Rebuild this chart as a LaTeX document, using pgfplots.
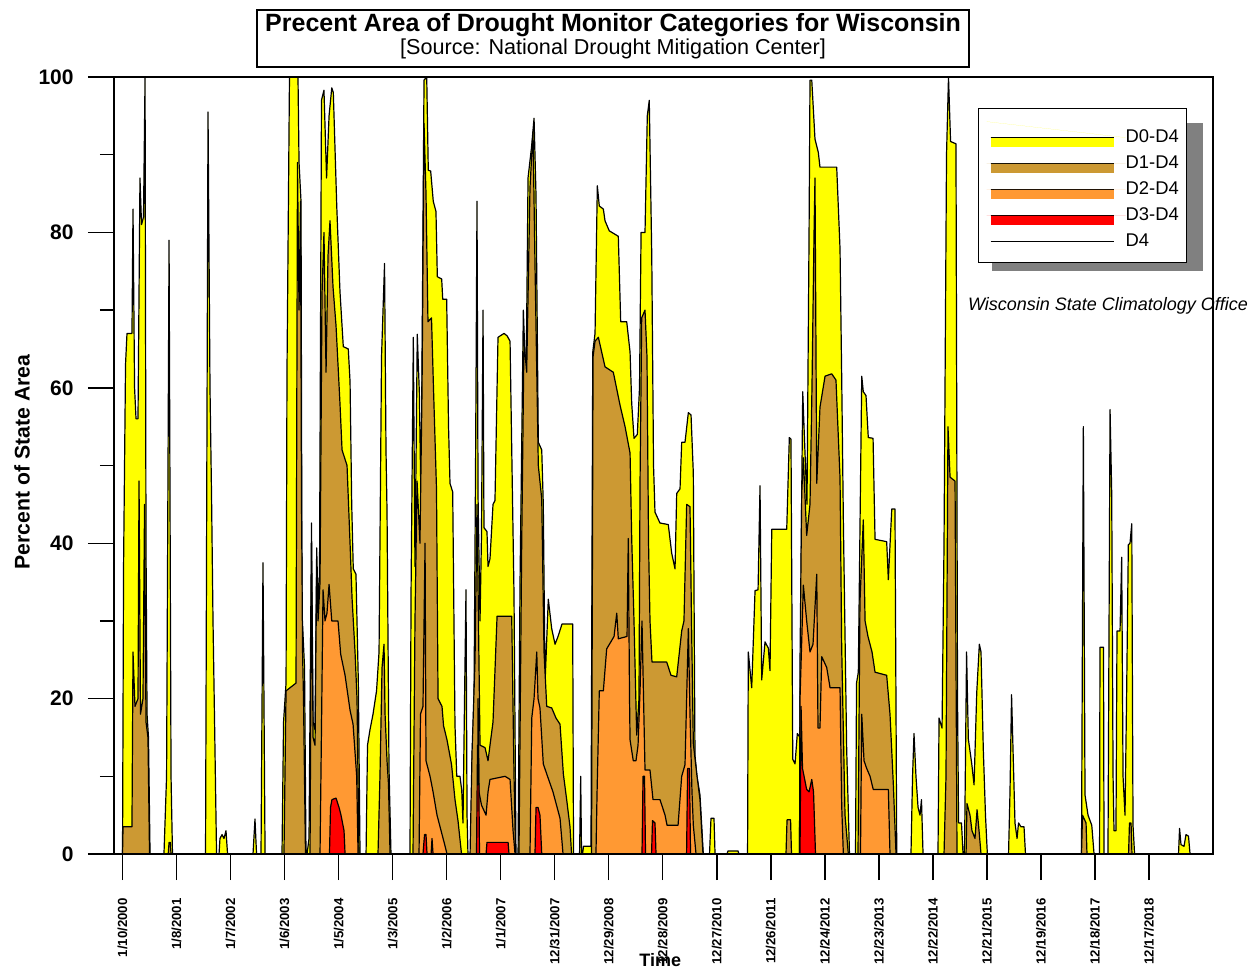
\documentclass[border=0pt]{standalone}
\usepackage{fontspec}
\setmainfont{Liberation Sans}
\usepackage{pgfplots}
\pgfplotsset{compat=1.18}
\definecolor{dzero}{RGB}{255,255,0}
\definecolor{done}{RGB}{204,153,51}
\definecolor{dtwo}{RGB}{255,153,51}
\definecolor{dthree}{RGB}{255,0,0}
\definecolor{shadowgray}{RGB}{128,128,128}
\begin{document}
\begin{tikzpicture}
\begin{axis}[
  width=549.5pt, height=388.5pt, scale only axis,
  xmin=-8.2, xmax=1049.6, ymin=0, ymax=100,
  axis on top, clip mode=individual,
  axis line style={line width=0.7pt},
  tick pos=left, tick align=outside,
  major tick length=13pt, minor tick length=7pt,
  tick style={black, line width=0.7pt},
  xtick={0,52,...,988},
  xticklabels={1/10/2000,1/8/2001,1/7/2002,1/6/2003,1/5/2004,1/3/2005,1/2/2006,1/1/2007,12/31/2007,12/29/2008,12/28/2009,12/27/2010,12/26/2011,12/24/2012,12/23/2013,12/22/2014,12/21/2015,12/19/2016,12/18/2017,12/17/2018},
  xticklabel style={rotate=90, anchor=east, font=\bfseries\fontsize{6.6}{7}\selectfont, inner sep=0pt},
  xticklabel shift=9pt,
  ytick={0,20,...,100}, minor ytick={10,30,50,70,90},
  yticklabel style={font=\bfseries\fontsize{10.5}{12}\selectfont, inner sep=0pt},
  yticklabel shift=7pt,
  /pgf/number format/assume math mode=true,
  ylabel={Percent of State Area},
  ylabel style={at={(axis description cs:-0.0837,0.5045)}, anchor=center, font=\bfseries\fontsize{10.6}{12}\selectfont},
  xlabel={Time},
  xlabel style={at={(axis description cs:0.497,-0.1274)}, anchor=north, inner sep=0pt, font=\bfseries\fontsize{9}{10}\selectfont},
  legend style={at={(0.7862,0.9601)}, anchor=north west, draw=black, line width=0.6pt, fill=white,
     inner xsep=4pt, inner ysep=6.5pt, row sep=4.6pt, font=\fontsize{9.2}{10}\selectfont,
     nodes={inner sep=0pt}},
  legend cell align=left,
  every axis plot/.append style={line join=round},
]
% legend shadow
\fill[shadowgray] (axis description cs:0.7989,0.9408) rectangle (axis description cs:0.9909,0.7503);
% D0-D4
\addplot[fill=dzero, draw=black, line width=0.6pt,
  legend image code/.code={\path[fill=dzero,draw=none] (2pt,-4.5pt) rectangle (63.5pt,0pt); \draw[black,line width=0.6pt] (2pt,0pt) -- (63.5pt,0pt); \path[draw=none] (0pt,8pt) -- (69.5pt,0pt);}]
coordinates {
(0,0) (1.0,37) (2.9,63) (4.3,67) (9.1,67) (10.1,83) (11.6,60) (13.0,56) (14.9,56) (16.8,87) (18.3,81) (20.2,82) (21.7,100) (22.6,40) (23.6,18) (25.0,15) (26.5,0)
(39.9,0) (42.4,10) (44.8,79) (46.7,10) (48.1,0)
(79.9,0) (82.3,95.5) (84.2,60) (85.7,46) (87.1,30) (88.6,17) (90.5,0) (92.9,0) (93.8,2) (95.8,2.5) (97.7,2) (99.6,3) (101.1,0)
(125.6,0) (127.5,4.5) (129.0,0) (133.3,0) (135.2,37.5) (137.2,0)
(153.5,0) (155.0,17) (157.4,22) (158.3,62) (160.7,100) (168.9,100) (169.9,89) (171.8,84) (172.8,31) (175.2,24) (176.6,0)
(177.6,0) (179.5,2) (181.9,42.6) (183.4,17) (185.3,16) (186.9,39.4) (188.2,32) (189.6,36) (191.5,97) (193.9,98.3) (196.4,87) (198.8,95) (201.4,98.6) (202.9,98) (206.2,83.4) (209.3,72.4) (212.5,65.3) (217.3,65) (219.0,60.8) (220.6,45) (222.1,36.7) (224.7,36) (227.0,22) (228.6,0)
(234.4,0) (235.8,14) (238.2,16) (241.1,18) (244.5,21) (246.9,26) (249.3,64) (252.2,76) (253.6,52) (254.6,44) (256.5,11) (258.4,0)
(276.7,0) (277.7,33.5) (279.9,66.5) (281.5,37) (283.7,66.9) (285.7,59.4) (287.3,45) (290.2,99.6) (292.8,100) (294.3,88) (296.6,87.9) (299.1,84) (301.7,82.7) (303.0,74.3) (307.2,74) (308.2,71.4) (312.0,71.4) (313.8,55) (315.2,47.7) (317.8,46.6) (320.0,16.6) (321.7,10) (324.8,10) (326.5,8.2) (327.7,4) (329.2,20) (330.6,34) (331.6,5) (332.5,0)
(335.4,0) (336.4,12) (338.3,20) (339.8,50) (341.2,84) (342.2,46) (344.1,30) (345.5,41) (347.0,70) (347.9,42) (350.8,41.5) (351.8,37) (353.7,38) (356.6,45) (358.5,45.5) (361.4,66.5) (367.2,67) (370.1,66.7) (373.0,66) (376.8,33.5) (378.7,0)
(380.7,0) (382.6,35) (385.8,70) (388.4,60) (390.3,87) (393.7,91) (396.1,94.7) (398.0,84.7) (400.2,53) (403.5,52) (405.0,45) (406.7,22) (409.8,32.8) (413.1,29) (416.3,27) (419.2,28) (423.0,29.6) (433.3,29.6) (434.1,0)
(439.9,0) (441.0,10) (441.8,0) (442.8,0) (443.7,1) (450.9,1) (452.6,64.6) (454.8,67) (457.0,86) (458.9,83.4) (462.8,83) (464.4,81.5) (468.5,80.2) (477.2,79.5) (479.5,68.5) (485.3,68.5) (488.5,64.6) (490.1,58) (492.3,53.5) (495.5,54) (497.6,60) (499.1,80) (502.9,80) (505.1,95) (507.0,97) (509.4,77) (511.1,50) (512.5,44) (517.3,42.6) (525.3,42.4) (528.6,38.7) (531.8,36.7) (533.4,46.4) (536.6,47) (538.2,53) (541.4,53) (544.6,56.8) (547.2,56.5) (549.4,49) (551.0,12.7) (552.9,10) (555.8,7.6) (559.0,0)
(565.0,0) (566.4,4.6) (569.3,4.6) (570.3,0) (581.8,0) (582.8,0.4) (592.4,0.4) (593.3,0)
(601.6,0) (602.3,26) (605.6,21.4) (608.8,33.9) (611.7,34) (613.6,47.4) (615.2,22.4) (618.4,27.3) (621.6,26.5) (623.2,23.6) (624.9,41.8) (639.3,41.8) (641.8,53.6) (643.4,53.4) (645.1,12.2) (647.3,11.6) (649.5,15.5) (652.1,15) (653.7,46) (654.7,59.5) (656.9,51.6) (658.8,45) (660.8,80) (661.7,99.6) (663.4,99.6) (666.5,92) (669.7,90.3) (671.3,88.4) (687.4,88.4) (690.6,77.9) (692.2,61.5) (693.8,43) (697.0,13.5) (699.7,0)
(705.5,0) (706.5,22) (708.2,23.4) (711.5,61.5) (713.0,59.5) (715.6,59) (717.8,53.6) (722.4,53.5) (724.3,40.5) (735.5,40.2) (737.1,35.3) (740.4,44.4) (743.5,44.4) (745.2,0)
(758.9,0) (760.4,10) (761.8,15.5) (763.7,10) (765.7,6) (767.6,5) (769.0,7) (770.5,0)
(784.9,0) (785.9,17.5) (788.8,16.2) (790.7,40) (793.1,90) (795.0,100) (797.0,91.7) (802.2,91.4) (803.7,20) (804.7,4) (807.5,4) (809.0,0)
(810.4,0) (812.4,26) (814.1,14.8) (817.4,11.6) (819.6,8.9) (822.2,20.8) (824.7,27) (826.3,26) (828.5,13.5) (830.6,5) (832.4,0)
(852.8,0) (854.2,8) (855.7,20.5) (857.1,13.5) (859.0,4) (861.0,2) (862.4,4) (864.8,3.5) (867.7,3.5) (869.1,0)
(923.0,0) (924.8,55) (926.4,7.6) (929.3,5) (932.9,3.7) (935.1,0) (940.4,0) (940.8,26.6) (944.2,26.6) (944.7,0) (948.5,0) (950.5,57.2) (952.1,46.4) (953.4,10) (954.3,3) (956.2,3) (957.2,28.7) (960.1,28.7) (961.7,38.2) (963.0,10) (964.9,5) (966.4,20) (968.1,39.8) (969.7,40) (971.4,42.5) (972.6,3.7) (974.1,0)
(1016.4,0) (1017.4,3.3) (1018.8,1.2) (1021.7,1) (1023.6,2.5) (1026.0,2.3) (1027.5,0)
} \closedcycle;
\addlegendentry{D0-D4}
% D1-D4
\addplot[fill=done, draw=black, line width=0.6pt,
  legend image code/.code={\path[fill=done,draw=none] (2pt,-4.5pt) rectangle (63.5pt,0pt); \draw[black,line width=0.6pt] (2pt,0pt) -- (63.5pt,0pt); \path[draw=none] (0pt,0pt) -- (69.5pt,0pt);}]
coordinates {
(0,0) (0.5,3.5) (9.1,3.5) (10.1,26) (12.0,19) (14.9,20) (15.9,48) (17.3,18) (19.7,20) (21.2,45) (22.6,17) (24.5,15) (26.0,0)
(44.0,0) (44.8,1.5) (46.0,1.5) (46.7,0)
(155.4,0) (157.4,21) (167.0,22) (168.4,89) (169.9,70) (171.3,84) (172.3,45) (173.3,26) (174.2,20) (176.1,0)
(180.5,0) (181.9,40) (183.4,15) (185.3,14) (186.9,37) (188.2,30) (190.1,35) (192.0,72) (193.9,80) (195.9,62) (197.8,77) (199.7,81.5) (202.6,73) (205.5,68) (209.3,58) (211.3,52) (216.1,50) (219.0,40) (220.9,33) (223.8,26) (225.7,20) (227.6,0)
(245.9,0) (247.8,10) (249.8,24) (251.7,27) (252.7,18) (254.6,12) (256.0,9) (257.5,0)
(279.6,0) (281.5,30) (283.5,48) (286.3,40) (288.3,60) (290.2,94) (292.1,85) (294.0,68.5) (297.4,69) (299.3,60) (302.2,47) (303.7,20) (307.5,19) (309.0,16.5) (312.3,14.7) (316.7,11.5) (320.0,7) (322.9,4.3) (326.3,0)
(334.5,0) (336.4,13) (339.3,25) (341.2,45) (344.1,14) (348.9,13.7) (351.8,12) (353.7,14) (356.6,17) (360.5,30.6) (374.6,30.6) (376.8,10.3) (378.3,0)
(381.6,0) (384.2,39.8) (386.4,66) (389.0,62) (392.2,85.8) (395.1,93) (397.0,76) (400.2,50) (403.5,45.7) (405.7,26) (408.3,19) (413.1,18.8) (417.2,17.5) (421.1,16.7) (424.3,10.3) (427.5,7) (430.7,3.5) (432.2,0)
(451.4,0) (452.9,64) (454.8,66) (458.0,66.5) (461.2,64.6) (464.4,62.7) (472.4,62) (478.8,57.8) (483.7,55) (488.5,51.6) (490.1,40.6) (492.3,30) (494.9,15.3) (497.1,20) (498.1,47.7) (499.7,69) (502.9,70) (504.8,64) (506.3,40) (507.7,30) (509.6,24.7) (523.8,24.7) (527.9,23) (533.4,22.8) (538.2,28.7) (540.4,30) (543.0,45) (546.2,44.7) (547.8,28.7) (549.4,14.2) (552.7,10.3) (555.8,7) (558.7,0)
(638.6,0) (639.6,4.4) (643.0,4.4) (643.9,0)
(651.6,0) (652.1,25) (653.7,46.3) (655.3,51) (658.5,41) (661.7,45) (663.6,60) (665.6,80) (666.5,87) (668.2,47.7) (671.3,57.5) (676.2,61.5) (682.6,61.8) (686.7,61) (690.6,48.4) (692.2,26.6) (695.4,5) (698.6,0)
(707.9,0) (709.8,32.5) (713.0,43) (714.7,30) (717.5,28) (721.4,26) (724.3,23.4) (735.5,23) (738.7,18) (741.9,9) (744.5,0)
(790.7,0) (792.6,10) (794.5,55) (796.5,48.5) (801.3,48) (803.2,0)
(811.9,0) (812.8,6.5) (815.7,5) (817.6,3) (820.5,2) (822.5,5.7) (824.4,3) (826.3,0)
(923.0,0) (924.0,5) (927.4,4) (928.3,0) (968.3,0) (969.2,4) (970.7,4) (971.6,0)
} \closedcycle;
\addlegendentry{D1-D4}
% D2-D4
\addplot[fill=dtwo, draw=black, line width=0.6pt,
  legend image code/.code={\path[fill=dtwo,draw=none] (2pt,-4.5pt) rectangle (63.5pt,0pt); \draw[black,line width=0.6pt] (2pt,0pt) -- (63.5pt,0pt); \path[draw=none] (0pt,0pt) -- (69.5pt,0pt);}]
coordinates {
(190.1,0) (191.5,16) (193.0,34) (194.9,30) (196.8,31) (198.8,34.7) (201.4,30) (207.4,30) (210.0,25.7) (214.2,23) (219.0,18.5) (221.9,16.7) (225.4,10) (226.7,0)
(285.4,0) (286.8,18) (289.2,19) (291.2,40) (292.1,12) (296.0,10) (298.9,8) (302.7,5) (306.6,3) (310.5,1) (312.3,0)
(341.7,0) (342.2,20) (343.1,8) (345.5,6.3) (349.9,5) (351.8,8) (353.7,9.6) (368.2,10) (373.0,9.6) (375.9,3) (377.8,0)
(392.2,0) (393.9,17.5) (396.1,20) (398.7,26) (399.9,20) (401.8,18.8) (405.0,11.6) (408.3,10.3) (414.3,8) (421.1,4.6) (424.0,0)
(455.7,0) (456.7,7.6) (458.9,21) (462.8,21) (466.0,26.4) (473.1,28) (475.7,31) (477.2,27.7) (485.6,28) (486.8,40.6) (488.0,20) (488.5,14.7) (491.6,12) (494.2,12) (496.2,14) (498.1,21) (500.0,30) (501.5,20) (502.9,10.8) (507.7,10.8) (510.6,7) (517.3,7) (522.2,5) (524.1,3.7) (534.7,3.7) (538.2,10) (541.4,11.5) (544.6,29) (546.2,18) (548.1,8) (549.4,3.7) (552.0,0)
(651.6,0) (652.1,20) (655.3,34.6) (658.5,30) (661.7,26) (664.6,27) (668.2,36) (669.4,16.2) (671.3,16.2) (673.0,25.4) (677.8,24) (681.0,21.4) (690.6,21.4) (692.2,6.3) (693.8,0)
(710.3,0) (711.5,18) (713.7,12) (716.3,11) (719.5,10) (722.6,8.3) (737.1,8.3) (738.7,0)
} \closedcycle;
\addlegendentry{D2-D4}
% D3-D4
\addplot[fill=dthree, draw=black, line width=0.6pt,
  legend image code/.code={\path[fill=dthree,draw=none] (2pt,-4.5pt) rectangle (63.5pt,0pt); \draw[black,line width=0.6pt] (2pt,0pt) -- (63.5pt,0pt); \path[draw=none] (0pt,0pt) -- (69.5pt,0pt);}]
coordinates {
(199.2,0) (200.2,6) (201.6,7) (205.5,7.2) (208.4,6) (210.3,5) (213.2,3) (214.2,0)
(289.2,0) (290.7,2.5) (292.1,2.5) (293.1,0) (297.0,0) (297.9,2) (298.9,0)
(340.7,0) (341.7,14) (342.6,14) (343.6,0) (349.9,0) (350.8,1.5) (371.1,1.5) (372.0,0)
(397.0,0) (398.0,6) (399.9,6) (401.8,5) (403.5,0)
(500.0,0) (501.0,10) (502.4,10) (503.4,0) (509.2,0) (510.1,4.3) (512.5,4) (513.5,0) (542.9,0) (543.9,11) (545.7,11) (546.7,0)
(652.1,0) (653.1,19) (654.5,11) (656.0,10) (658.5,8.3) (660.8,8) (663.4,9.6) (665.1,8) (667.0,0)
} \closedcycle;
\addlegendentry{D3-D4}
% D4
\addplot[black, line width=0.6pt,
  legend image code/.code={\draw[black,line width=0.5pt] (2pt,0pt) -- (63.5pt,0pt); \path[draw=none] (0pt,0pt) -- (69.5pt,0pt);}]
coordinates {(0,0) (1027.5,0)};
\addlegendentry{D4}

\draw[line width=0.7pt, fill=white] (axis description cs:0.1301,1.01287) rectangle (axis description cs:0.7780,1.08623);
\node[anchor=base, inner sep=0pt, font=\bfseries\fontsize{12.5}{14}\selectfont] at (axis description cs:0.4541,1.0592) {Precent Area of Drought Monitor Categories for Wisconsin};
\node[anchor=base, inner sep=0pt, font=\fontsize{10.8}{12}\selectfont] at (axis description cs:0.4541,1.0296) {[Source: National Drought Mitigation Center]};
\node[anchor=center, inner sep=0pt, font=\itshape\fontsize{9}{10}\selectfont] at (axis description cs:0.9045,0.7053) {Wisconsin State Climatology Office};
\coordinate (BL) at (axis description cs:-0.10373,-0.14800);
\coordinate (TR) at (axis description cs:1.03913,1.09910);
\end{axis}
\pgfresetboundingbox
\useasboundingbox (BL) rectangle (TR);
\end{tikzpicture}
\end{document}
